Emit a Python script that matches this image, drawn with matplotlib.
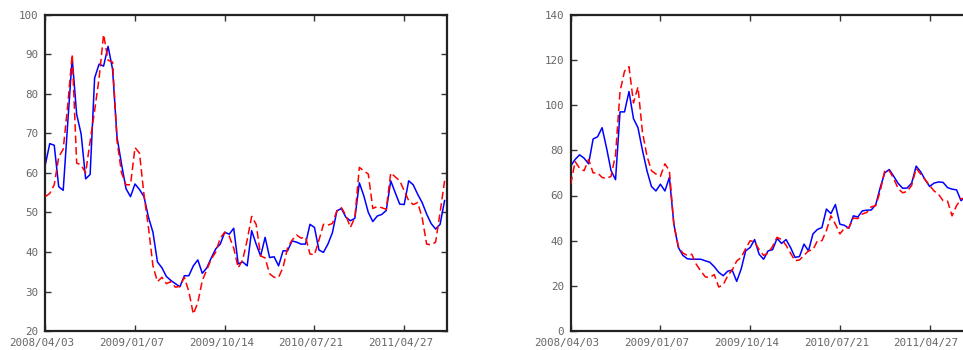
import matplotlib
matplotlib.use("Agg")
import matplotlib.pyplot as plt
import matplotlib.transforms as mtransforms
import numpy as np

# weekly observations, sampled every second week starting 2008/04/03
weeks = np.arange(0, 180, 2)
tick_weeks = [0, 40, 80, 120, 160]
tick_labels = ["2008/04/03", "2009/01/07", "2009/10/14", "2010/07/21", "2011/04/27"]

left_blue = [62, 67.4, 67, 56.5, 55.6, 72.5, 89, 74.8, 69.8, 58.5,
             59.6, 84, 87.5, 87, 92, 86.2, 69, 62.2, 56, 54,
             57.2, 55.8, 54, 48.8, 45, 37.5, 36, 33.8, 32.8, 32,
             31.2, 34, 34, 36.5, 38, 34.6, 36, 38.5, 40.8, 42,
             45, 44.5, 46, 37, 37.5, 36.5, 45.4, 42, 39, 43.7,
             38.6, 38.8, 36.5, 40.3, 40.3, 42.8, 42.5, 42, 42, 47,
             46.2, 40.5, 39.9, 42, 44.9, 50.4, 51, 48.8, 47.9, 48.5,
             57.5, 54.2, 50, 47.7, 49.1, 49.5, 50.5, 58, 55, 52.1,
             52, 58, 57, 54.6, 52.5, 49.6, 47.2, 45.8, 47, 53]

left_red = [54, 54.8, 57, 64, 66, 77, 90, 62.5, 62, 60,
            68, 75.7, 84, 95, 88.5, 88, 68, 60, 57, 57,
            66.4, 65, 54.5, 46.2, 36.5, 32.5, 33.6, 32, 32.5, 31.1,
            31.3, 33.6, 30, 24.3, 27.2, 32.8, 35.5, 38.2, 40, 43.5,
            45, 44, 41, 36, 38, 43, 49, 47, 39, 38.5,
            34.5, 33.6, 33.6, 36.1, 41, 43, 44.3, 43.5, 43.8, 39.5,
            39.3, 43, 47, 46.8, 47.2, 50.4, 51.2, 49.3, 46.2, 48.7,
            61.4, 60.5, 59.7, 51, 51.5, 51.2, 50.8, 60, 59, 58,
            55.5, 53, 52, 52.5, 48.7, 42, 41.8, 42.5, 50, 58]

right_blue = [73, 76, 78, 76.5, 74, 85, 86, 90, 81, 71,
              67, 97, 97, 106, 94, 90, 80, 71, 64, 62,
              65, 62, 68, 47.3, 37, 33.5, 32, 31.8, 31.8, 31.8,
              31.1, 30.5, 28.5, 26, 24.5, 26.5, 27, 22, 27.5, 35.5,
              37, 40.5, 34, 31.8, 35.5, 36, 41, 38.8, 40.5, 37,
              32.6, 33, 38.5, 35.5, 43, 45, 45.8, 54, 52, 56,
              47.3, 46.8, 45.5, 51, 50.5, 53.2, 53.5, 53.6, 56, 63.6,
              70, 71.5, 68.5, 65.3, 63.2, 63.3, 65.5, 73, 70.5, 67,
              64, 65.5, 66, 65.8, 63.5, 62.8, 62.5, 57.7, 59.5, 60]

right_red = [65, 75, 72, 71, 76, 70, 70, 68, 67.5, 68.5,
             78, 106, 115, 117, 101, 108, 88, 77.5, 71, 69.5,
             68.5, 74, 71, 47, 37.5, 34.5, 33.5, 34, 29.5, 26.6,
             24, 23.7, 25, 19.5, 20.5, 24.5, 27, 31, 32.6, 36.5,
             40, 39.5, 36, 33.5, 34.5, 37.5, 41.5, 40.5, 38, 34.5,
             31.1, 31.5, 33.5, 35.5, 36, 40, 40, 44.5, 51, 47.3,
             43, 45.5, 45.8, 50, 49.8, 51.8, 52.5, 55, 55.5, 62,
             71, 71, 67.5, 63, 61.2, 61.8, 64.5, 72, 69.5, 67,
             64.5, 62, 60.5, 57.7, 57.5, 51, 55.5, 58.5, 59, 58]

fig = plt.figure(figsize=(9.63, 3.5), dpi=100)
ax1 = fig.add_axes([0.047, 0.054, 0.417, 0.904])
ax2 = fig.add_axes([0.5926, 0.054, 0.417, 0.904])

panels = [
    (ax1, left_blue, left_red, (20, 100), np.arange(20, 101, 10)),
    (ax2, right_blue, right_red, (0, 140), np.arange(0, 141, 20)),
]

# date labels sit a little left of their ticks
shift = mtransforms.ScaledTranslation(-3.5 / 100, 0, fig.dpi_scale_trans)

for ax, blue, red, ylim, yticks in panels:
    ax.plot(weeks, blue, color="#0000ff", lw=1.1, zorder=2)
    ax.plot(weeks, red, color="#ff0000", lw=1.1, ls=(0, (5, 2.5)), zorder=3)
    ax.set_xlim(0, 179)
    ax.set_ylim(*ylim)
    ax.set_yticks(yticks)
    ax.set_xticks(tick_weeks)
    ax.set_xticklabels(tick_labels)
    ax.tick_params(direction="in", length=4, width=1, color="#333333",
                   top=True, right=True, labelsize=7.8, labelcolor="#666666",
                   pad=5)
    for lab in ax.get_xticklabels():
        lab.set_family("DejaVu Sans Mono")
        lab.set_transform(lab.get_transform() + shift)
    for lab in ax.get_yticklabels():
        lab.set_family("DejaVu Sans Mono")
    for side in ["left", "bottom", "top", "right"]:
        ax.spines[side].set_linewidth(1.6)
        ax.spines[side].set_color("#222222")

fig.savefig("out.png", dpi=100)
